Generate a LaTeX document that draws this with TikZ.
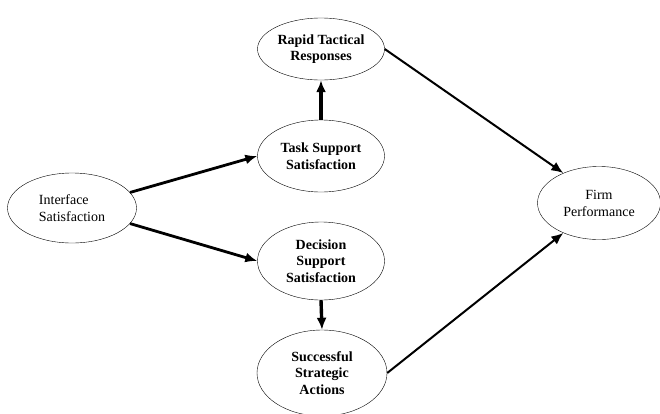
\documentclass[tikz,border=0pt]{standalone}
\usepackage{fontspec}
\setmainfont{Liberation Serif}
\usetikzlibrary{shapes.geometric}
\usetikzlibrary{arrows.meta}

\tikzset{
	construct/.style={draw,ellipse,thin,inner sep=0pt,align=center,font=\fontsize{14}{17}\selectfont},
	boldconstruct/.style={construct,font=\fontsize{14}{16.5}\selectfont\bfseries},
	link/.style={-{Latex[length=12pt,width=10pt]},line width=2.8pt},
	thinlink/.style={-{Latex[length=12pt,width=10pt]},line width=2pt}
}

\begin{document}
\begin{tikzpicture}[x=1pt,y=-1pt]
	\useasboundingbox (0,0) rectangle (660,413);
	\node[construct,align=left,minimum width=129pt,minimum height=70pt] (interface) at (72,208) {Interface\\Satisfaction};
	\node[boldconstruct,minimum width=127pt,minimum height=62pt] (rapid) at (321,49) {Rapid Tactical\\Responses};
	\node[boldconstruct,minimum width=127pt,minimum height=72pt] (task) at (321,156) {Task Support\\Satisfaction};
	\node[boldconstruct,minimum width=127pt,minimum height=78pt] (decision) at (321,261) {Decision\\Support\\Satisfaction};
	\node[boldconstruct,minimum width=130pt,minimum height=86pt] (success) at (322,373) {Successful\\Strategic\\Actions};
	\node[construct,minimum width=123pt,minimum height=73pt] (firm) at (599,203) {Firm\\Performance};
	\draw[link] (interface.15) -- (task.west);
	\draw[link] (interface.-15) -- (decision.west);
	\draw[link,line width=3.4pt] (task.north) -- (rapid.south);
	\draw[link,line width=3.4pt] (decision.south) -- (success.north);
	\draw[thinlink] (rapid.east) -- (firm.140);
	\draw[thinlink] (success.east) -- (firm.-140);
\end{tikzpicture}
\end{document}
